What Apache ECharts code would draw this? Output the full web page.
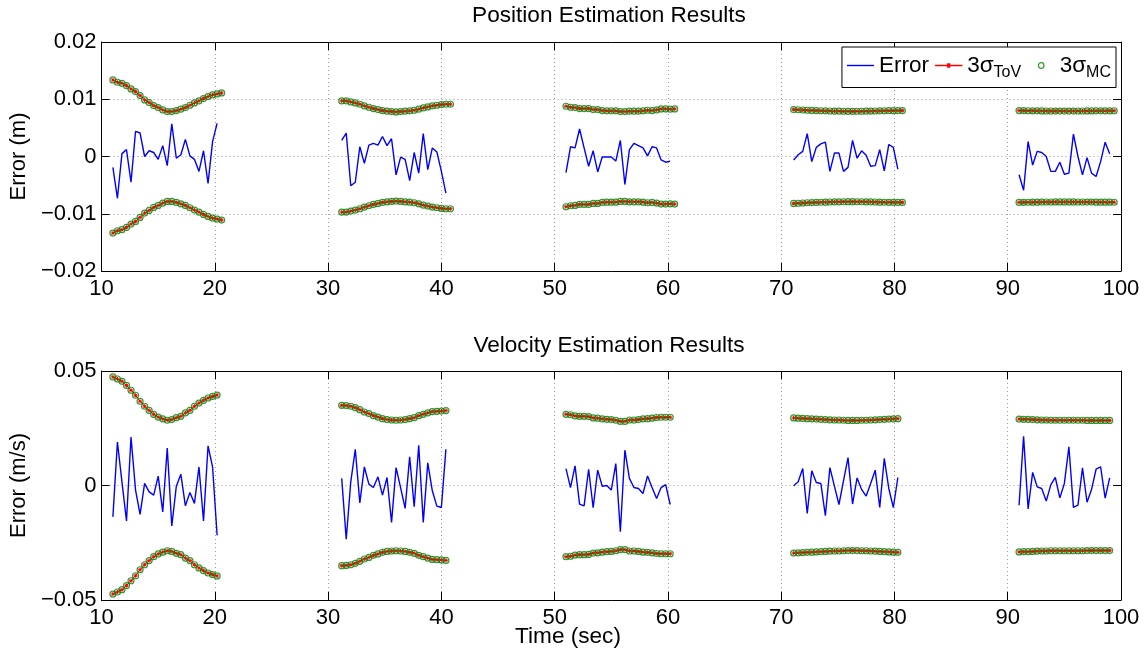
<!DOCTYPE html>
<html>
<head>
<meta charset="utf-8">
<script src="https://cdn.jsdelivr.net/npm/echarts@6/dist/echarts.min.js"></script>
<style>
html,body{margin:0;padding:0;background:#fff;}
#chart{width:1148px;height:649px;}
</style>
</head>
<body>
<div id="chart"></div>
<script>
// ---- data ----
const segStarts = [11, 31.2, 51, 71.1, 91];
const timeStep = 0.4;
const xTicks = [10, 20, 30, 40, 50, 60, 70, 80, 90, 100];
const posTicks = [-0.02, -0.01, 0, 0.01, 0.02];
const velTicks = [-0.05, 0, 0.05];

// Position error (m)
const posErr1 = [-0.0019,-0.0073,0.0005,0.0012,-0.0045,0.0044,0.0041,0.0000,0.0010,0.0007,-0.0005,0.0019,-0.0016,0.0057,-0.0003,0.0003,0.0030,0.0001,-0.0005,-0.0026,0.0010,-0.0047,0.0026,0.0058];
const posErr2 = [0.0028,0.0041,-0.0051,-0.0045,0.0017,-0.0012,0.0020,0.0023,0.0020,0.0035,0.0019,0.0031,-0.0032,-0.0001,-0.0005,-0.0042,0.0007,-0.0029,0.0040,-0.0023,0.0015,0.0008,-0.0026,-0.0064];
const posErr3 = [-0.0028,0.0017,0.0015,0.0048,0.0015,-0.0017,0.0010,-0.0027,-0.0001,-0.0001,-0.0001,-0.0008,0.0028,-0.0049,0.0012,0.0023,0.0019,0.0015,0.0001,0.0017,0.0015,-0.0006,-0.0010,-0.0008];
const posErr4 = [-0.0006,0.0003,0.0009,0.0040,-0.0009,0.0016,0.0022,0.0025,-0.0026,0.0006,0.0006,-0.0026,-0.0019,0.0028,-0.0003,0.0010,0.0002,-0.0017,-0.0016,0.0012,-0.0025,0.0021,0.0016,-0.0022];
const posErr5 = [-0.0032,-0.0059,0.0026,-0.0015,0.0009,0.0007,0.0000,-0.0026,-0.0026,-0.0010,-0.0031,-0.0029,0.0039,0.0000,-0.0032,-0.0002,-0.0029,-0.0035,-0.0009,0.0025,0.0005];

// Position 3-sigma bound (m), upper side
const posSig1 = [0.01337,0.01297,0.01279,0.01238,0.01180,0.01134,0.01064,0.00988,0.00942,0.00890,0.00855,0.00814,0.00785,0.00785,0.00802,0.00826,0.00855,0.00895,0.00936,0.00971,0.01012,0.01047,0.01076,0.01093,0.01110];
const posSig2 = [0.00971,0.00971,0.00953,0.00936,0.00913,0.00884,0.00860,0.00837,0.00820,0.00802,0.00791,0.00785,0.00779,0.00785,0.00791,0.00797,0.00808,0.00826,0.00849,0.00866,0.00884,0.00895,0.00907,0.00913,0.00913];
const posSig3 = [0.00878,0.00860,0.00855,0.00837,0.00837,0.00837,0.00820,0.00820,0.00802,0.00797,0.00797,0.00797,0.00785,0.00785,0.00791,0.00791,0.00791,0.00797,0.00808,0.00802,0.00814,0.00831,0.00831,0.00826,0.00831];
const posSig4 = [0.00820,0.00817,0.00812,0.00808,0.00805,0.00802,0.00799,0.00797,0.00795,0.00793,0.00791,0.00790,0.00789,0.00789,0.00790,0.00790,0.00791,0.00793,0.00795,0.00797,0.00799,0.00800,0.00801,0.00802,0.00802];
const posSig5 = [0.00802,0.00800,0.00799,0.00798,0.00797,0.00796,0.00795,0.00795,0.00794,0.00794,0.00794,0.00794,0.00794,0.00795,0.00795,0.00796,0.00796,0.00797,0.00797,0.00798,0.00798,0.00799];

// Velocity error (m/s)
const velErr1 = [-0.0137,0.0190,0.0016,-0.0155,0.0212,-0.0020,-0.0126,0.0009,-0.0028,-0.0042,0.0041,-0.0115,0.0164,-0.0177,-0.0003,0.0049,-0.0089,-0.0031,-0.0078,0.0081,-0.0155,0.0173,0.0081,-0.0217];
const velErr2 = [0.0031,-0.0235,0.0016,0.0158,-0.0076,0.0081,0.0006,-0.0009,0.0038,-0.0042,0.0035,-0.0161,0.0078,-0.0009,-0.0100,0.0125,-0.0093,0.0176,-0.0161,0.0099,-0.0023,-0.0090,-0.0096,0.0158];
const velErr3 = [0.0074,-0.0009,0.0086,-0.0081,-0.0089,0.0071,-0.0097,0.0067,-0.0003,0.0000,-0.0020,0.0096,-0.0202,0.0154,0.0031,-0.0009,-0.0013,-0.0035,0.0042,-0.0009,-0.0057,-0.0009,0.0004,-0.0083];
const velErr4 = [-0.0001,0.0016,0.0074,-0.0122,0.0064,0.0013,0.0009,-0.0132,0.0078,-0.0003,-0.0083,0.0020,0.0122,-0.0081,0.0033,-0.0017,-0.0046,0.0009,0.0067,-0.0096,0.0118,-0.0013,-0.0096,0.0035];
const velErr5 = [-0.0086,0.0215,-0.0102,0.0057,-0.0006,-0.0013,-0.0068,0.0003,0.0035,-0.0054,0.0009,0.0169,-0.0096,-0.0086,0.0077,-0.0073,-0.0017,0.0071,0.0081,-0.0055,0.0033];

// Velocity 3-sigma bound (m/s), upper side
const velSig1 = [0.0474,0.0465,0.0455,0.0437,0.0416,0.0394,0.0368,0.0346,0.0328,0.0311,0.0299,0.0291,0.0285,0.0288,0.0296,0.0302,0.0317,0.0328,0.0346,0.0360,0.0372,0.0382,0.0389,0.0395];
const velSig2 = [0.0350,0.0349,0.0346,0.0340,0.0331,0.0321,0.0314,0.0305,0.0299,0.0292,0.0288,0.0286,0.0285,0.0286,0.0288,0.0292,0.0296,0.0305,0.0311,0.0317,0.0323,0.0324,0.0325,0.0327];
const velSig3 = [0.0311,0.0309,0.0304,0.0302,0.0302,0.0301,0.0295,0.0294,0.0291,0.0289,0.0288,0.0285,0.0280,0.0280,0.0286,0.0286,0.0288,0.0291,0.0292,0.0294,0.0297,0.0298,0.0298,0.0298];
const velSig4 = [0.0295,0.0294,0.0293,0.0292,0.0291,0.0290,0.0289,0.0288,0.0287,0.0286,0.0286,0.0285,0.0284,0.0284,0.0284,0.0285,0.0285,0.0286,0.0287,0.0288,0.0289,0.0290,0.0291,0.0292];
const velSig5 = [0.0290,0.0289,0.0289,0.0288,0.0287,0.0286,0.0286,0.0285,0.0285,0.0285,0.0285,0.0285,0.0285,0.0285,0.0285,0.0284,0.0284,0.0284,0.0284,0.0284,0.0284];

const posErr = [posErr1, posErr2, posErr3, posErr4, posErr5];
const posSig = [posSig1, posSig2, posSig3, posSig4, posSig5];
const velErr = [velErr1, velErr2, velErr3, velErr4, velErr5];
const velSig = [velSig1, velSig2, velSig3, velSig4, velSig5];

// ---- helpers ----
const FONT = 'Liberation Sans, Arial, Helvetica, sans-serif';
const BLUE = '#0000ff', RED = '#ff0000', GREEN = '#008000';
const ASTER = 'path://M0,5L10,5M5,0L5,10M1.5,1.5L8.5,8.5M8.5,1.5L1.5,8.5';
// legend icons framed in a 27x12 box (moveTo points fix the bounding box)
const ICON_LINE = 'path://M0,0M27,12M0,5.3L27,5.3L27,6.7L0,6.7Z';
const ICON_TOV = 'path://M0,0M27,12M0,5.4L27,5.4L27,6.6L0,6.6ZM12,4L15,4L15,8L12,8Z';
const ICON_CIRC = 'path://M0,0M27,12M16.3,6A2.8,2.8 0 1 1 10.7,6A2.8,2.8 0 1 1 16.3,6Z';

function pts(start, vals, sign) {
  return vals.map((v, i) => [+(start + i * timeStep).toFixed(3), sign * v]);
}
function yFmt(v) {
  if (Math.abs(v) < 1e-12) return '0';
  return (v < 0 ? '\u2212' : '') + Math.abs(v).toFixed(2);
}

function makeSeries(g, errs, sigs) {
  const out = [];
  const xi = g * 2, yi = g * 2;
  errs.forEach((e, k) => {
    out.push({
      name: 'Error', type: 'line', xAxisIndex: xi, yAxisIndex: yi,
      data: pts(segStarts[k], e, 1), symbol: 'none', showSymbol: false,
      lineStyle: { color: BLUE, width: 1.4 }, itemStyle: { color: BLUE }, z: 2
    });
  });
  sigs.forEach((s, k) => {
    [1, -1].forEach(sign => {
      out.push({
        name: 'ToV', type: 'line', xAxisIndex: xi, yAxisIndex: yi,
        data: pts(segStarts[k], s, sign), symbol: ASTER, symbolSize: 4, showSymbol: true,
        lineStyle: { color: RED, width: 1 },
        itemStyle: { color: RED, borderColor: RED, borderWidth: 1 }, z: 3
      });
    });
  });
  sigs.forEach((s, k) => {
    [1, -1].forEach(sign => {
      out.push({
        name: 'MC', type: 'scatter', xAxisIndex: xi, yAxisIndex: yi,
        data: pts(segStarts[k], s, sign), symbol: 'circle', symbolSize: 6,
        itemStyle: { color: 'rgba(255,255,255,0)', borderColor: GREEN, borderWidth: 1.2 }, z: 4
      });
    });
  });
  return out;
}

function xAxes(g) {
  const common = {
    gridIndex: g, type: 'value', min: xTicks[0], max: xTicks[xTicks.length - 1],
    interval: xTicks[1] - xTicks[0],
    axisLine: { show: true, onZero: false, lineStyle: { color: '#000', width: 1 } },
    axisTick: { show: true, inside: true, length: 8, lineStyle: { color: '#000' } }
  };
  return [
    Object.assign({}, common, {
      position: 'bottom',
      axisLabel: { show: true, color: '#000', fontSize: 22, fontFamily: FONT, margin: 7 },
      splitLine: { show: true, lineStyle: { color: '#9a9a9a', type: [1, 3], width: 1 } }
    }),
    Object.assign({}, common, {
      position: 'top', axisLabel: { show: false }, splitLine: { show: false }
    })
  ];
}
function yAxes(g, ticks, name) {
  const common = {
    gridIndex: g, type: 'value', min: ticks[0], max: ticks[ticks.length - 1],
    interval: ticks[1] - ticks[0],
    axisLine: { show: true, onZero: false, lineStyle: { color: '#000', width: 1 } },
    axisTick: { show: true, inside: true, length: 8, lineStyle: { color: '#000' } }
  };
  return [
    Object.assign({}, common, {
      position: 'left',
      name: name, nameLocation: 'middle', nameRotate: 90, nameGap: 66,
      nameTextStyle: { color: '#000', fontSize: 22, fontFamily: FONT },
      axisLabel: { show: true, color: '#000', fontSize: 22, fontFamily: FONT, margin: 5, formatter: yFmt },
      splitLine: { show: true, lineStyle: { color: '#9a9a9a', type: [1, 3], width: 1 } }
    }),
    Object.assign({}, common, {
      position: 'right', axisLabel: { show: false }, splitLine: { show: false }
    })
  ];
}

const chart = echarts.init(document.getElementById('chart'), null, { renderer: 'canvas' });
const option = {
  animation: false,
  backgroundColor: '#fff',
  grid: [
    { left: 98, right: 27, top: 42, height: 229, containLabel: false },
    { left: 98, right: 27, top: 371, height: 229, containLabel: false }
  ],
  xAxis: xAxes(0).concat(xAxes(1)),
  yAxis: yAxes(0, posTicks, 'Error (m)').concat(yAxes(1, velTicks, 'Error (m/s)')),
  legend: {
    show: true, orient: 'horizontal', right: 32, top: 47,
    padding: [7, 5, 7, 5], itemGap: 6, itemWidth: 27, itemHeight: 12,
    backgroundColor: '#fff', borderColor: '#000', borderWidth: 1, borderRadius: 0,
    selectedMode: false,
    data: [
      { name: 'Error', icon: ICON_LINE, itemStyle: { color: BLUE, borderColor: BLUE, borderWidth: 0 } },
      { name: 'ToV', icon: ICON_TOV, itemStyle: { color: RED, borderColor: RED, borderWidth: 0.4 } },
      { name: 'MC', icon: ICON_CIRC, itemStyle: { color: 'rgba(255,255,255,0)', borderColor: GREEN, borderWidth: 1.2 } }
    ],
    formatter: function (n) {
      if (n === 'Error') return '{a|Error}';
      return '{a|3σ}{s|' + n + '}';
    },
    textStyle: {
      color: '#000', fontFamily: FONT,
      rich: {
        a: { fontSize: 22.5, fontFamily: FONT, color: '#000', lineHeight: 30, verticalAlign: 'middle' },
        s: { fontSize: 16, fontFamily: FONT, color: '#000', lineHeight: 16, verticalAlign: 'bottom' }
      }
    }
  },
  graphic: [
    { type: 'text', x: 609, y: 16, style: { text: 'Position Estimation Results', fontSize: 22.6, fontFamily: FONT, fill: '#000', align: 'center', verticalAlign: 'middle', textAlign: 'center', textVerticalAlign: 'middle' } },
    { type: 'text', x: 609, y: 346, style: { text: 'Velocity Estimation Results', fontSize: 22.6, fontFamily: FONT, fill: '#000', align: 'center', verticalAlign: 'middle', textAlign: 'center', textVerticalAlign: 'middle' } },
    { type: 'text', x: 568, y: 637, style: { text: 'Time (sec)', fontSize: 22.6, fontFamily: FONT, fill: '#000', align: 'center', verticalAlign: 'middle', textAlign: 'center', textVerticalAlign: 'middle' } }
  ],
  series: makeSeries(0, posErr, posSig).concat(makeSeries(1, velErr, velSig))
};
chart.setOption(option);
</script>
</body>
</html>
